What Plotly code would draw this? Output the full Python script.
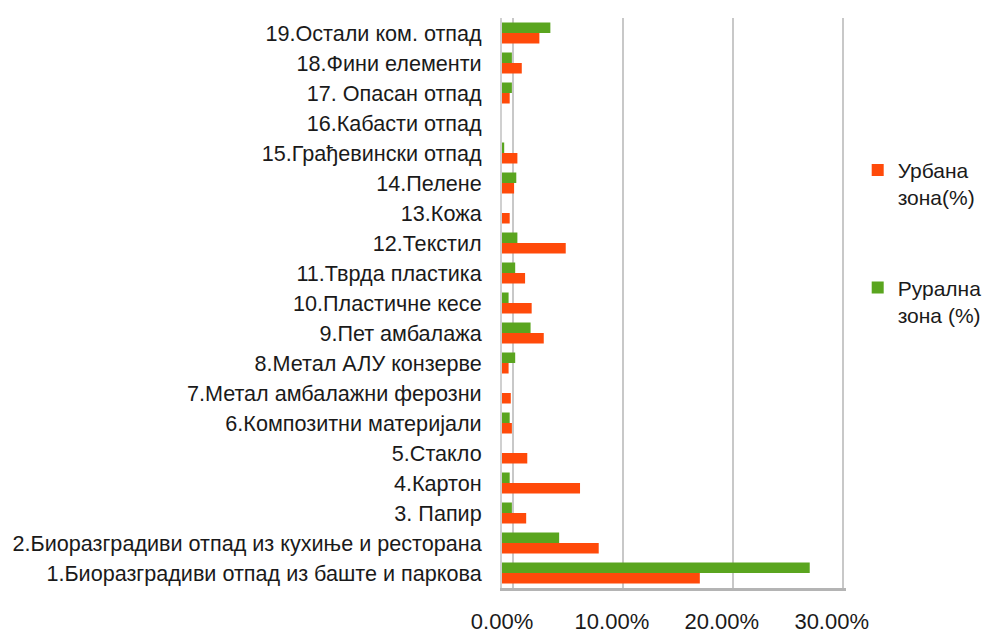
import plotly.graph_objects as go

# categories, bottom to top
categories = [
    "1.Биоразградиви отпад из баште и паркова",
    "2.Биоразградиви отпад из кухиње и ресторана",
    "3. Папир",
    "4.Картон",
    "5.Стакло",
    "6.Композитни материјали",
    "7.Метал амбалажни ферозни",
    "8.Метал АЛУ конзерве",
    "9.Пет амбалажа",
    "10.Пластичне кесе",
    "11.Тврда пластика",
    "12.Текстил",
    "13.Кожа",
    "14.Пелене",
    "15.Грађевински отпад",
    "16.Кабасти отпад",
    "17. Опасан отпад",
    "18.Фини елементи",
    "19.Остали ком. отпад",
]

# values in percent
urban = [18.0, 8.8, 2.2, 7.1, 2.3, 0.9, 0.8, 0.6, 3.8, 2.7,
         2.1, 5.8, 0.7, 1.1, 1.4, 0.0, 0.7, 1.8, 3.4]
rural = [28.0, 5.2, 0.9, 0.7, 0.0, 0.7, 0.0, 1.2, 2.6, 0.6,
         1.2, 1.4, 0.0, 1.3, 0.2, 0.0, 0.9, 0.9, 4.4]

x_ticks = [0, 10, 20, 30]
x_tick_text = ["0.00%", "10.00%", "20.00%", "30.00%"]

ORANGE = "#FF4A0A"
GREEN = "#5AA51F"

fig = go.Figure()
fig.add_trace(go.Bar(
    y=categories, x=urban, orientation="h",
    name="Урбана<br>зона(%)", marker_color=ORANGE,
    marker_line_width=0, legendgroup="u",
))
fig.add_trace(go.Bar(
    y=categories, x=rural, orientation="h",
    name="Рурална<br>зона (%)", marker_color=GREEN,
    marker_line_width=0, legendgroup="r",
))
# empty trace so the back-wall grid axis gets drawn
fig.add_trace(go.Scatter(x=[], y=[], xaxis="x2", showlegend=False, hoverinfo="skip"))

fig.update_layout(
    width=987, height=632,
    margin=dict(l=502, r=141, t=18, b=44),
    paper_bgcolor="white", plot_bgcolor="white",
    barmode="group", bargap=0.3, bargroupgap=0,
    font=dict(family="Liberation Sans, Arial, sans-serif", size=21.6, color="#1a1a1a"),
    showlegend=True,
    legend=dict(
        xref="container", yref="container",
        x=0.869, y=0.763, xanchor="left", yanchor="top",
        traceorder="grouped", tracegroupgap=60, valign="top",
        font=dict(size=21), itemwidth=30,
    ),
    xaxis=dict(
        range=[0, 31.3], tickvals=x_ticks, ticktext=x_tick_text,
        showgrid=False, zeroline=False,
        showline=True, linecolor="#b4b4b4", linewidth=3,
        tickfont=dict(size=22), ticklabelstandoff=12, automargin=False,
    ),
    # back-wall gridlines, shifted one unit to mimic the 3D depth
    xaxis2=dict(
        overlaying="x", anchor="y", side="bottom",
        range=[-1, 30.3], tickvals=x_ticks,
        showticklabels=False, showgrid=True,
        gridcolor="#c8c8c8", gridwidth=1.5, zeroline=False, automargin=False,
    ),
    yaxis=dict(
        categoryorder="array", categoryarray=categories,
        showline=True, linecolor="#d0d0d0", linewidth=2,
        ticks="", ticklabelstandoff=14, automargin=False,
    ),
)

fig.write_html("out.html", config={"displayModeBar": False},
               post_script="document.body.style.margin='0';")
